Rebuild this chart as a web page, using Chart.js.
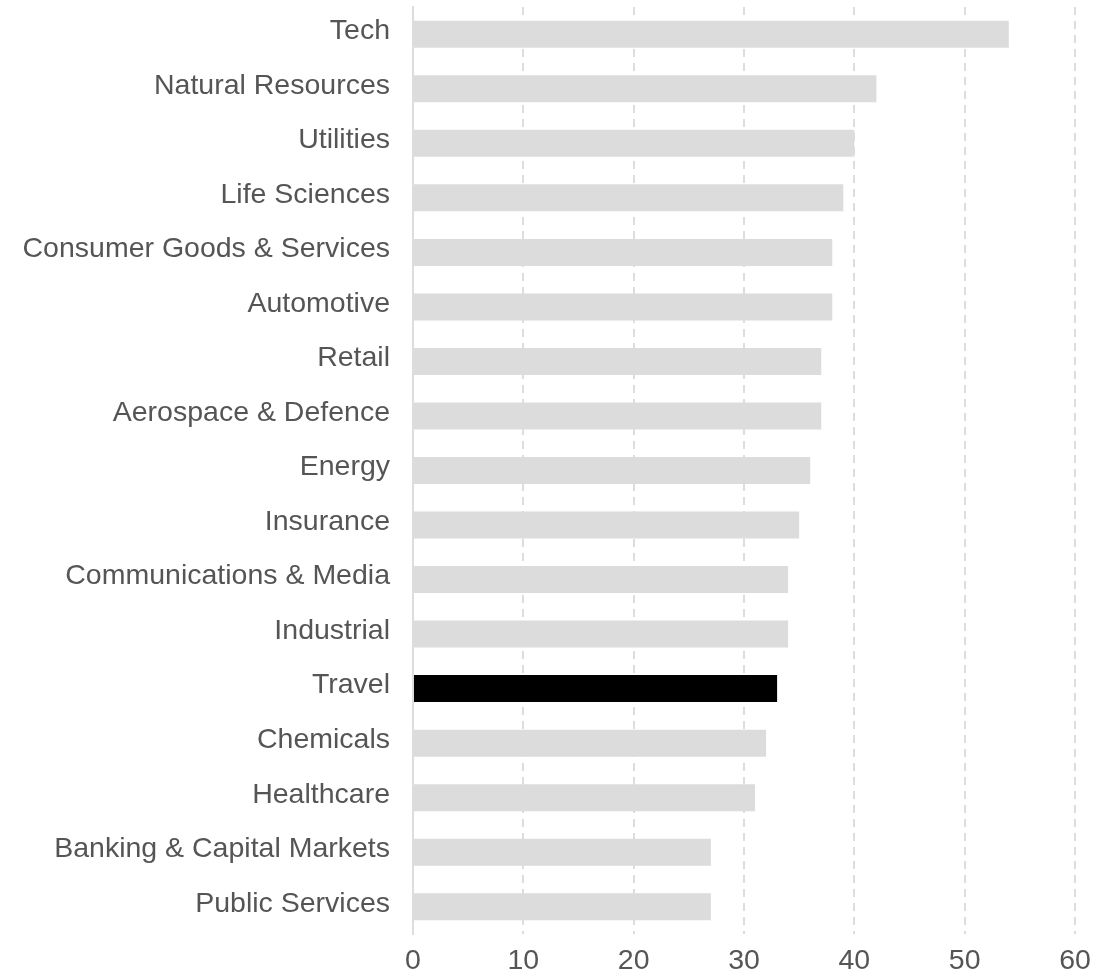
<!DOCTYPE html>
<html>
<head>
<meta charset="utf-8">
<script src="https://cdn.jsdelivr.net/npm/chart.js@4"></script>
<style>
    html, body { margin: 0; padding: 0; background: #fff; }
    #wrap { width: 1110px; height: 974px; }
</style>
</head>
<body>
<div id="wrap"><canvas id="sectorChart"></canvas></div>
<script>
// Sector scores
const sectors = ['Tech', 'Natural Resources', 'Utilities', 'Life Sciences', 'Consumer Goods & Services',
    'Automotive', 'Retail', 'Aerospace & Defence', 'Energy', 'Insurance', 'Communications & Media',
    'Industrial', 'Travel', 'Chemicals', 'Healthcare', 'Banking & Capital Markets', 'Public Services'];
const scores = [54, 42, 40, 39, 38, 38, 37, 37, 36, 35, 34, 34, 33, 32, 31, 27, 27];
const highlight = 'Travel';
const xTicks = [0, 10, 20, 30, 40, 50, 60];

const barColors = sectors.map(s => s === highlight ? '#000000' : '#dcdcdc');
const textColor = '#555555';
const fontFamily = '"Liberation Sans", Arial, Helvetica, sans-serif';

new Chart(document.getElementById('sectorChart'), {
    type: 'bar',
    data: {
        labels: sectors,
        datasets: [{
            data: scores,
            backgroundColor: barColors,
            borderWidth: 0,
            categoryPercentage: 1,
            barPercentage: 0.495
        }]
    },
    options: {
        indexAxis: 'y',
        responsive: true,
        maintainAspectRatio: false,
        animation: false,
        layout: { padding: { top: 7, right: 35, left: 0, bottom: 0 } },
        plugins: { legend: { display: false }, tooltip: { enabled: false } },
        scales: {
            x: {
                min: xTicks[0],
                max: xTicks[xTicks.length - 1],
                afterBuildTicks: (scale) => { scale.ticks = xTicks.map(v => ({ value: v })); },
                afterFit: (scale) => {
                    scale.height = 40;
                    scale.paddingLeft = 0;
                    scale.paddingRight = 0;
                },
                grid: { color: '#dddddd', lineWidth: 2, drawTicks: false },
                border: { display: false, dash: [8, 6] },
                ticks: { color: textColor, padding: 10, font: { family: fontFamily, size: 28.5 } }
            },
            y: {
                afterFit: (scale) => {
                    scale.width = 413;
                    scale.paddingTop = 0;
                    scale.paddingBottom = 0;
                },
                grid: { display: false, drawTicks: false },
                border: { display: true, color: '#dddddd', width: 2 },
                ticks: { color: textColor, padding: 23, labelOffset: -3, font: { family: fontFamily, size: 28.5 } }
            }
        }
    }
});
</script>
</body>
</html>
